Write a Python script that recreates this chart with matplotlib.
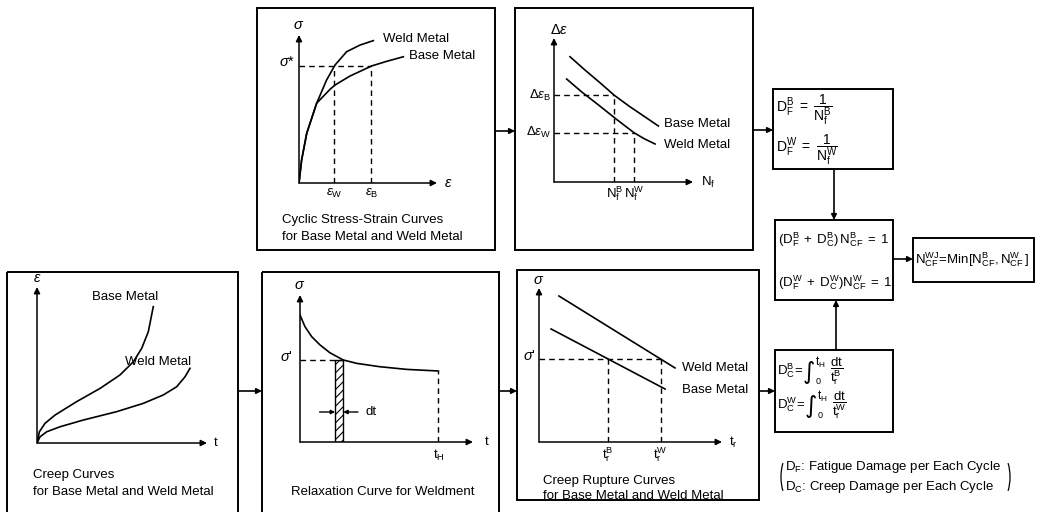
import numpy as np
import matplotlib.pyplot as plt
from matplotlib.patches import Rectangle, Arc

plt.rcParams['font.family'] = ['Liberation Sans', 'DejaVu Sans']
plt.rcParams['mathtext.fontset'] = 'custom'
plt.rcParams['mathtext.rm'] = 'Liberation Sans'
plt.rcParams['mathtext.it'] = 'Liberation Sans:italic'
plt.rcParams['mathtext.bf'] = 'Liberation Sans:bold'
plt.rcParams['hatch.linewidth'] = 0.8

W, H = 1043, 512

# cyclic stress-strain curves (strain, stress; arbitrary units)
ss_weld_eps = [0, 0.019, 0.056, 0.128, 0.20, 0.261, 0.345, 0.442, 0.539]
ss_weld_sig = [0, 0.155, 0.336, 0.539, 0.696, 0.797, 0.887, 0.932, 0.962]
ss_base_eps = [0, 0.019, 0.056, 0.128, 0.225, 0.261, 0.37, 0.527, 0.635, 0.756]
ss_base_sig = [0, 0.155, 0.336, 0.539, 0.633, 0.662, 0.723, 0.791, 0.822, 0.853]
sigma_star = 0.79

# fatigue curves (cycles to failure, strain range)
fat_base_n = [0.115, 0.22, 0.33, 0.434, 0.54, 0.65, 0.751]
fat_base_de = [0.870, 0.780, 0.690, 0.602, 0.527, 0.455, 0.389]
fat_weld_n = [0.091, 0.20, 0.32, 0.45, 0.576, 0.65, 0.727]
fat_weld_de = [0.715, 0.625, 0.535, 0.435, 0.342, 0.300, 0.264]
de_base = 0.602
de_weld = 0.342

# creep curves (time, strain)
cr_base_t = [0, 0.014, 0.047, 0.106, 0.233, 0.371, 0.488, 0.567, 0.616, 0.655, 0.684]
cr_base_e = [0, 0.072, 0.126, 0.179, 0.265, 0.350, 0.436, 0.521, 0.607, 0.714, 0.874]
cr_weld_t = [0, 0.018, 0.057, 0.135, 0.272, 0.469, 0.625, 0.743, 0.822, 0.871, 0.9]
cr_weld_e = [0, 0.04, 0.072, 0.104, 0.147, 0.201, 0.254, 0.308, 0.361, 0.425, 0.479]

# relaxation curve (time, stress)
rx_t = [0, 0.029, 0.068, 0.116, 0.173, 0.25, 0.328, 0.462, 0.617, 0.8]
rx_s = [0.864, 0.784, 0.716, 0.660, 0.607, 0.558, 0.535, 0.512, 0.494, 0.483]
t_prime = 0.25
dt_width = 0.047
t_hold = 0.8

# creep rupture lines (rupture time, stress)
ru_weld_t = [0.109, 0.743]
ru_weld_s = [0.948, 0.481]
ru_base_t = [0.066, 0.689]
ru_base_s = [0.734, 0.344]
sigma_prime = 0.539

fig = plt.figure(figsize=(W / 100, H / 100), dpi=100)
bg = fig.add_axes([0, 0, 1, 1])
bg.set_xlim(0, W)
bg.set_ylim(H, 0)
bg.axis('off')

FS = 9.5
dash = (0, (4, 3))


def box(x0, y0, x1, y1):
    bg.add_patch(Rectangle((x0, y0), x1 - x0, y1 - y0, fill=False, lw=1.4, ec='black'))


def flow(x0, y0, x1, y1):
    bg.annotate('', xy=(x1, y1), xytext=(x0, y0),
                arrowprops=dict(arrowstyle='-|>', color='black', lw=1.2,
                                mutation_scale=8, shrinkA=0, shrinkB=0))


def panel(ox, oy, ex, ey):
    ax = fig.add_axes([ox / W, (H - oy) / H, (ex - ox) / W, (oy - ey) / H])
    ax.set_xlim(0, 1)
    ax.set_ylim(0, 1)
    ax.axis('off')
    for end in [(1, 0), (0, 1)]:
        ax.annotate('', xy=end, xytext=(0, 0), annotation_clip=False,
                    arrowprops=dict(arrowstyle='-|>', color='black', lw=1.1,
                                    mutation_scale=9, shrinkA=0, shrinkB=0))
    return ax


def txt(ax, x, y, s, **kw):
    kw.setdefault('fontsize', FS)
    kw.setdefault('va', 'center')
    return ax.text(x, y, s, clip_on=False, **kw)


# boxes and flow
box(257, 8, 495, 250)
box(515, 8, 753, 250)
box(773, 89, 893, 169)
box(775, 220, 893, 300)
box(913, 238, 1034, 282)
box(775, 350, 893, 432)
box(7, 272, 238, 530)
box(262, 272, 499, 530)
box(517, 270, 759, 500)

flow(495, 131, 515, 131)
flow(753, 130, 773, 130)
flow(834, 169, 834, 220)
flow(893, 259, 913, 259)
flow(836, 350, 836, 300)
flow(238, 391, 262, 391)
flow(499, 391, 517, 391)
flow(759, 391, 775, 391)

# cyclic stress-strain
ax1 = panel(299, 183, 437, 35)
ax1.plot(ss_weld_eps, ss_weld_sig, color='black', lw=1.2)
ax1.plot(ss_base_eps, ss_base_sig, color='black', lw=1.2)
eps_w = np.interp(sigma_star, ss_weld_sig, ss_weld_eps)
eps_b = np.interp(sigma_star, ss_base_sig, ss_base_eps)
ax1.plot([0, eps_b], [sigma_star, sigma_star], color='black', lw=1, ls=dash)
ax1.plot([eps_w, eps_w], [0, sigma_star], color='black', lw=1, ls=dash)
ax1.plot([eps_b, eps_b], [0, sigma_star], color='black', lw=1, ls=dash)
txt(ax1, 0, 1.07, r'$\sigma$', ha='center', fontsize=10.5)
txt(ax1, 1.05, 0, r'$\varepsilon$', ha='left', fontsize=10.5)
txt(ax1, -0.03, sigma_star + 0.03, r'$\sigma$*', ha='right', fontsize=10.5)
txt(ax1, eps_w, -0.07, r'$\varepsilon_\mathrm{W}$', ha='center')
txt(ax1, eps_b, -0.07, r'$\varepsilon_\mathrm{B}$', ha='center')
txt(ax1, 0.61, 0.973, 'Weld Metal', ha='left')
txt(ax1, 0.80, 0.858, 'Base Metal', ha='left')
txt(bg, 282, 220, 'Cyclic Stress-Strain Curves', ha='left')
txt(bg, 282, 237, 'for Base Metal and Weld Metal', ha='left')

# fatigue curves
ax2 = panel(554, 182, 693, 38)
ax2.plot(fat_base_n, fat_base_de, color='black', lw=1.2)
ax2.plot(fat_weld_n, fat_weld_de, color='black', lw=1.2)
n_b = np.interp(de_base, fat_base_de[::-1], fat_base_n[::-1])
n_w = np.interp(de_weld, fat_weld_de[::-1], fat_weld_n[::-1])
ax2.plot([0, n_b], [de_base, de_base], color='black', lw=1, ls=dash)
ax2.plot([0, n_w], [de_weld, de_weld], color='black', lw=1, ls=dash)
ax2.plot([n_b, n_b], [0, de_base], color='black', lw=1, ls=dash)
ax2.plot([n_w, n_w], [0, de_weld], color='black', lw=1, ls=dash)
txt(ax2, 0.04, 1.055, r'$\Delta\varepsilon$', ha='center', fontsize=10.5)
txt(ax2, 1.06, 0, r'$\mathrm{N_f}$', ha='left')
txt(ax2, -0.02, de_base, r'$\Delta\varepsilon_\mathrm{B}$', ha='right')
txt(ax2, -0.02, de_weld, r'$\Delta\varepsilon_\mathrm{W}$', ha='right')
txt(ax2, n_b, -0.08, r'$\mathrm{N}_\mathrm{f}^\mathrm{B}$', ha='center')
txt(ax2, n_w, -0.08, r'$\mathrm{N}_\mathrm{f}^\mathrm{W}$', ha='center')
txt(ax2, 0.79, 0.403, 'Base Metal', ha='left')
txt(ax2, 0.79, 0.257, 'Weld Metal', ha='left')

# creep curves
axa = panel(37, 443, 207, 287)
axa.plot(cr_base_t, cr_base_e, color='black', lw=1.2)
axa.plot(cr_weld_t, cr_weld_e, color='black', lw=1.2)
txt(axa, 0, 1.06, r'$\varepsilon$', ha='center', fontsize=10.5)
txt(axa, 1.04, 0, 't', ha='left')
txt(axa, 0.52, 0.936, 'Base Metal', ha='center')
txt(axa, 0.71, 0.52, 'Weld Metal', ha='center')
txt(bg, 33, 475, 'Creep Curves', ha='left')
txt(bg, 33, 492, 'for Base Metal and Weld Metal', ha='left')

# relaxation curve
axb = panel(300, 442, 473, 295)
axb.plot(rx_t, rx_s, color='black', lw=1.2)
s_p = np.interp(t_prime, rx_t, rx_s)
s_h = np.interp(t_hold, rx_t, rx_s)
axb.plot([0, t_prime], [s_p, s_p], color='black', lw=1, ls=dash)
axb.plot([t_hold, t_hold], [0, s_h], color='black', lw=1, ls=dash)
axb.add_patch(Rectangle((t_prime - dt_width, 0), dt_width, s_p, hatch='////',
                        fill=False, ec='black', lw=1))
for a, b in [(t_prime - dt_width - 0.09, t_prime - dt_width),
             (t_prime + 0.085, t_prime)]:
    axb.annotate('', xy=(b, 0.204), xytext=(a, 0.204),
                 arrowprops=dict(arrowstyle='-|>', color='black', lw=1,
                                 mutation_scale=6, shrinkA=0, shrinkB=0))
txt(axb, 0, 1.07, r'$\sigma$', ha='center', fontsize=10.5)
txt(axb, 1.07, 0, 't', ha='left')
txt(axb, -0.04, s_p + 0.02, r"$\sigma$'", ha='right', fontsize=10.5)
txt(axb, 0.38, 0.204, 'dt', ha='left')
txt(axb, t_hold, -0.09, r'$\mathrm{t_H}$', ha='center')
txt(bg, 383, 492, 'Relaxation Curve for Weldment', ha='center')

# creep rupture curves
axc = panel(539, 442, 722, 288)
axc.plot(ru_weld_t, ru_weld_s, color='black', lw=1.2)
axc.plot(ru_base_t, ru_base_s, color='black', lw=1.2)
tr_b = np.interp(sigma_prime, ru_base_s[::-1], ru_base_t[::-1])
tr_w = np.interp(sigma_prime, ru_weld_s[::-1], ru_weld_t[::-1])
axc.plot([0, tr_w], [sigma_prime, sigma_prime], color='black', lw=1, ls=dash)
axc.plot([tr_b, tr_b], [0, sigma_prime], color='black', lw=1, ls=dash)
axc.plot([tr_w, tr_w], [0, sigma_prime], color='black', lw=1, ls=dash)
txt(axc, 0, 1.05, r'$\sigma$', ha='center', fontsize=10.5)
txt(axc, 1.04, 0, r'$\mathrm{t_r}$', ha='left')
txt(axc, -0.02, sigma_prime + 0.02, r"$\sigma$'", ha='right', fontsize=10.5)
txt(axc, tr_b, -0.085, r'$\mathrm{t}_\mathrm{r}^\mathrm{B}$', ha='center')
txt(axc, tr_w, -0.085, r'$\mathrm{t}_\mathrm{r}^\mathrm{W}$', ha='center')
txt(axc, 0.78, 0.48, 'Weld Metal', ha='left')
txt(axc, 0.78, 0.338, 'Base Metal', ha='left')
txt(bg, 543, 481, 'Creep Rupture Curves', ha='left')
txt(bg, 543, 496, 'for Base Metal and Weld Metal', ha='left')

# damage and life formulas
FM = 9.5
txt(bg, 776, 110, r'$\mathrm{D}_\mathrm{F}^\mathrm{B}\ =\ \dfrac{1}{\mathrm{N}_\mathrm{f}^\mathrm{B}}$', ha='left', fontsize=10)
txt(bg, 776, 150, r'$\mathrm{D}_\mathrm{F}^\mathrm{W}\ =\ \dfrac{1}{\mathrm{N}_\mathrm{f}^\mathrm{W}}$', ha='left', fontsize=10)
txt(bg, 778, 240, r'$(\mathrm{D}_\mathrm{F}^\mathrm{B}\;+\;\mathrm{D}_\mathrm{C}^\mathrm{B})\,\mathrm{N}_\mathrm{CF}^\mathrm{B}\;=\;1$', ha='left', fontsize=FM)
txt(bg, 778, 283, r'$(\mathrm{D}_\mathrm{F}^\mathrm{W}\;+\;\mathrm{D}_\mathrm{C}^\mathrm{W})\mathrm{N}_\mathrm{CF}^\mathrm{W}\;=\;1$', ha='left', fontsize=FM)
txt(bg, 915, 260, r'$\mathrm{N}_\mathrm{CF}^\mathrm{WJ}\!=\!\mathrm{Min[N}_\mathrm{CF}^\mathrm{B},\mathrm{N}_\mathrm{CF}^\mathrm{W}\,]$', ha='left', fontsize=FM)

# creep damage integrals, one row per metal; the integral sign follows the measured left part
fig.canvas.draw()
for yc, m in [(371, 'B'), (405, 'W')]:
    lhs = txt(bg, 777, yc, r'$\mathrm{D}_\mathrm{C}^\mathrm{%s}\!=$' % m, ha='left', fontsize=FM)
    x_end = lhs.get_window_extent(fig.canvas.get_renderer()).x1
    txt(bg, x_end + 6, yc + 1, '\u222b', ha='center', fontsize=17, family='DejaVu Sans')
    txt(bg, x_end + 12, yc - 9, r'$\mathrm{t_H}$', ha='left', fontsize=8.5)
    txt(bg, x_end + 12, yc + 10, '0', ha='left', fontsize=6.5)
    txt(bg, x_end + 27, yc, r'$\dfrac{\mathrm{dt}}{\mathrm{t}_\mathrm{r}^\mathrm{%s}}$' % m, ha='left', fontsize=FM)

# notation key
txt(bg, 785, 467, r'$\mathrm{D_F}$: Fatigue Damage per Each Cycle', ha='left')
txt(bg, 785, 487, r'$\mathrm{D_C}$: Creep Damage per Each Cycle', ha='left')
bg.add_patch(Arc((788, 477), 14, 40, theta1=110, theta2=250, lw=0.9, color='black'))
bg.add_patch(Arc((1003, 477), 14, 40, theta1=-70, theta2=70, lw=0.9, color='black'))

fig.savefig('out.png', dpi=100)
